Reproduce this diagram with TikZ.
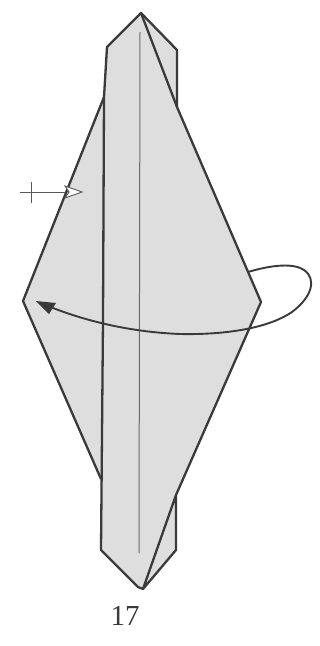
\documentclass[tikz,border=0pt]{standalone}
\usepackage{fontspec}
\setmainfont{Liberation Serif}
\definecolor{paper}{HTML}{DEDEDE}
\definecolor{ink}{HTML}{3A3A3A}
\tikzset{
  fold/.style={draw=ink,line width=2.3pt,line join=round},
  crease/.style={draw=ink!75,line width=1pt},
  thinline/.style={draw=ink!85,line width=0.9pt},
}
\begin{document}
\begin{tikzpicture}[x=1pt,y=-1pt]
\useasboundingbox (0,0) rectangle (320,646);
\fill[white] (0,0) rectangle (320,646);
% paper
\fill[paper] (141,13) -- (177,50) -- (177,107) -- (261,302) -- (176,495) -- (176,550) -- (141,589) -- (101,550) -- (101,479) -- (23,301) -- (104,97) -- (107,47) -- cycle;
% crease
\draw[crease] (140,32) -- (139,553);
% outline
\draw[fold] (104,97) -- (23,301) -- (101,479);
\draw[fold] (141,13) -- (177,107) -- (261,302) -- (176,495) -- (143,589) -- (176,550) -- (176,495);
\draw[fold] (177,107) -- (177,50) -- (141,13) -- (107,47) -- (104,97) -- (103,320) -- (101,550) -- (138,587) -- (143,589);
% valley arrow behind
\draw[ink,line width=1.9pt] (248,272) .. controls (268,266) and (292,262) .. (304,270)
  .. controls (317,279) and (312,297) .. (292,312)
  .. controls (270,327) and (230,335) .. (180,334)
  .. controls (130,332) and (85,321) .. (48,306);
\fill[ink] (36,301) -- (56,303) -- (49,314) -- cycle;
% mountain-fold mark
\draw[thinline] (20,192) -- (65,192);
\draw[thinline] (31,182) -- (31,203);
\filldraw[thinline,fill=white] (65,186) -- (82,192) -- (65,198) -- (69,192) -- cycle;
\node[inner sep=0pt,font=\fontsize{29}{29}\selectfont,text=ink] (label) at (125,616) {17};
\end{tikzpicture}
\end{document}
